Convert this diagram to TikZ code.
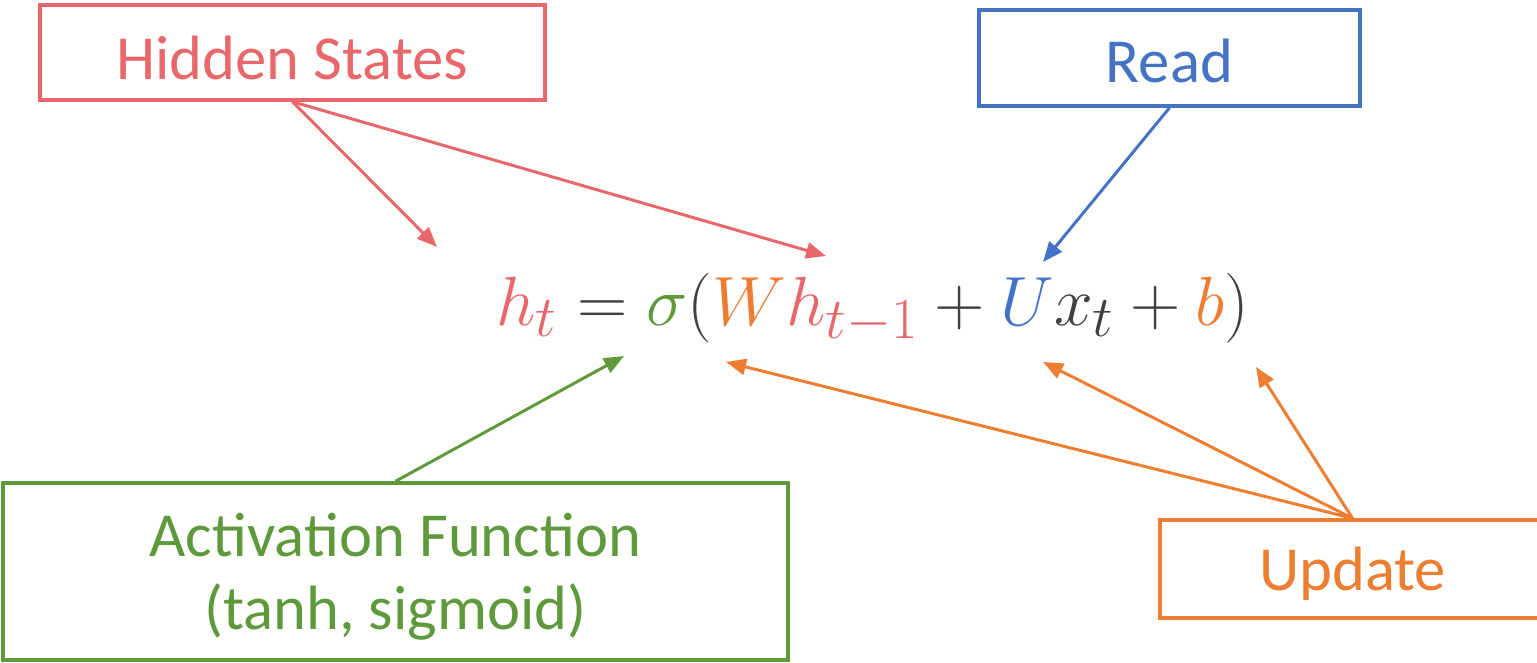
\documentclass[tikz,border=0pt]{standalone}
\usepackage{fontspec}
\setmainfont{Carlito}
\usetikzlibrary{arrows.meta}

\definecolor{hidred}{HTML}{E8676A}
\definecolor{readblue}{HTML}{4472C4}
\definecolor{actgreen}{HTML}{5E9A3B}
\definecolor{updorange}{HTML}{ED7D31}
\definecolor{eqgray}{HTML}{404040}

\tikzset{every picture/.style={line width=2.25pt}}
\tikzset{
  labelbox/.style={draw, line width=2.6pt, inner sep=0pt},
  boxtext/.style={inner sep=0pt, yshift=-3.75pt, font=\fontsize{47}{55}\selectfont, align=center},
  pointer/.style={-{Triangle[length=15pt,width=12pt]}, shorten >=0pt}
}

\begin{document}
\begin{tikzpicture}[x=0.75pt,y=0.75pt,yscale=-1,xscale=1]
\useasboundingbox (0,0) rectangle (1537,663);

% Boxes
\node [labelbox, draw=hidred, minimum width=378.75pt, minimum height=71.25pt,
  label={[boxtext, text=hidred]center:Hidden States}] (hidden) at (292.5,52.5) {};
\node [labelbox, draw=readblue, minimum width=285.75pt, minimum height=72pt,
  label={[boxtext, text=readblue, yshift=1.5pt]center:Read}] (read) at (1169.5,58) {};
\node [labelbox, draw=actgreen, minimum width=588.75pt, minimum height=132.75pt,
  label={[boxtext, text=actgreen]center:Activation Function\\(tanh, sigmoid)}] (act) at (395.5,571.5) {};
\node [labelbox, draw=updorange, minimum width=288.75pt, minimum height=73.5pt,
  label={[boxtext, text=updorange]center:Update}] (upd) at (1352.5,569) {};

% Equation
\node [inner sep=0pt, anchor=base, font=\fontsize{24.88}{30}\selectfont, text=eqgray] (eq) at (873,325)
  {\scalebox{2.1}{$\textcolor{hidred}{h_t} = \textcolor{actgreen}{\sigma}(\textcolor{updorange}{W}\textcolor{hidred}{h_{t-1}} + \textcolor{readblue}{U}x_t + \textcolor{updorange}{b})$}};

% Arrow ends
\coordinate (ht) at (437,247);
\coordinate (hprev) at (826,256);
\coordinate (uin) at (1043,262);
\coordinate (sig) at (624,356);
\coordinate (wup) at (726,362);
\coordinate (uup) at (1043,362);
\coordinate (bup) at (1256,367);

%Straight Lines
\draw [pointer, hidred] (hidden.south) -- (ht);
\draw [pointer, hidred] (hidden.south) -- (hprev);
\draw [pointer, readblue] (read.south) -- (uin);
\draw [pointer, actgreen] (act.north) -- (sig);
\draw [pointer, updorange] (upd.north) -- (wup);
\draw [pointer, updorange] (upd.north) -- (uup);
\draw [pointer, updorange] (upd.north) -- (bup);

\end{tikzpicture}
\end{document}
